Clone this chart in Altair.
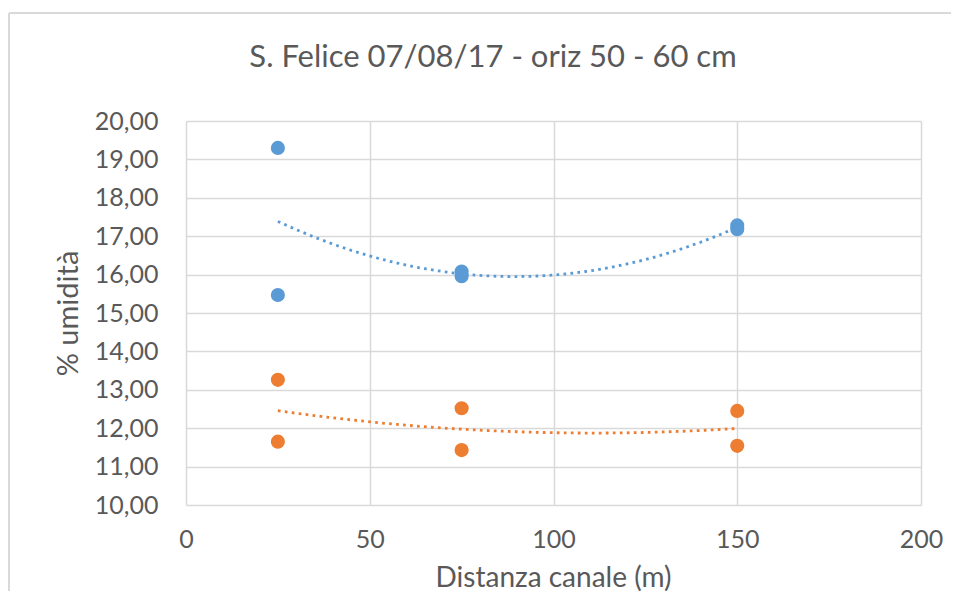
import altair as alt
import pandas as pd

distance = [25, 25, 75, 75, 150, 150]
blue_vals = [19.30, 15.47, 16.08, 15.96, 17.28, 17.18]
orange_vals = [13.26, 11.65, 12.52, 11.43, 12.45, 11.54]
series_names = ["Serie1", "Serie2"]
series_colors = ["#5B9BD5", "#ED7D31"]
x_ticks = [0, 50, 100, 150, 200]
y_ticks = [10, 11, 12, 13, 14, 15, 16, 17, 18, 19, 20]
title_text = "S. Felice 07/08/17 - oriz 50 - 60 cm"

df = pd.DataFrame({
    "x": distance + distance,
    "y": blue_vals + orange_vals,
    "series": [series_names[0]] * len(distance) + [series_names[1]] * len(distance),
})

FONT = "Lato"
TXT = "#595959"
GRID = "#D9D9D9"

color = alt.Color("series:N", scale=alt.Scale(domain=series_names, range=series_colors), legend=None)

xenc = alt.X("x:Q", scale=alt.Scale(domain=[0, 200], nice=False, zero=False),
             axis=alt.Axis(values=x_ticks, title="Distanza canale (m)", grid=True, domain=False,
                           ticks=False, tickSize=0, labelPadding=22, labelFontSize=25,
                           labelFlush=False, labelOverlap=False,
                           labelFont=FONT, labelColor=TXT, titleFont=FONT, titleFontSize=28,
                           titleColor=TXT, titleFontWeight="normal", titleX=367, titleY=81,
                           titleBaseline="alphabetic", titleAlign="center",
                           gridColor=GRID, gridWidth=1.5))
yenc = alt.Y("y:Q", scale=alt.Scale(domain=[10, 20], nice=False, zero=False),
             axis=alt.Axis(values=y_ticks, title="% umidità", grid=True, domain=False,
                           ticks=False, tickSize=0, labelPadding=28, labelFontSize=25,
                           labelFlush=False, labelOverlap=False,
                           labelFont=FONT, labelColor=TXT,
                           labelExpr="replace(format(datum.value, '.2f'), '.', ',')",
                           titleFont=FONT, titleFontSize=29, titleColor=TXT,
                           titleFontWeight="normal", titleX=-118, titleY=192, titleAngle=270,
                           titleBaseline="middle", titleAlign="center",
                           gridColor=GRID, gridWidth=1.5))

points = alt.Chart(df).mark_circle(size=200, opacity=1).encode(x=xenc, y=yenc, color=color)

trend = alt.Chart(df).transform_regression(
    "x", "y", groupby=["series"], method="poly", order=2, extent=[25, 150]
).mark_line(strokeDash=[2.7, 4.3], strokeWidth=2.8).encode(x=xenc, y=yenc, color=color)

frame_df = pd.DataFrame({"k": [0]})
left_border = alt.Chart(frame_df).mark_rule(color=GRID, strokeWidth=2).encode(
    x=alt.value(-177), y=alt.value(-108), y2=alt.value(480))
top_border = alt.Chart(frame_df).mark_rule(color=GRID, strokeWidth=2).encode(
    x=alt.value(-177), x2=alt.value(765), y=alt.value(-108))
title_mark = alt.Chart(frame_df).mark_text(
    text=title_text, font=FONT, fontSize=31, color=TXT, align="center", baseline="alphabetic"
).encode(x=alt.value(307), y=alt.value(-54))

chart = alt.layer(trend, points, left_border, top_border, title_mark).properties(
    width=735, height=384,
    autosize=alt.AutoSizeParams(type="none"),
    padding={"left": 178, "top": 113, "right": 30, "bottom": 86},
).configure_view(stroke=None)

chart.save("out.html", embed_options={"renderer": "svg", "actions": False})
